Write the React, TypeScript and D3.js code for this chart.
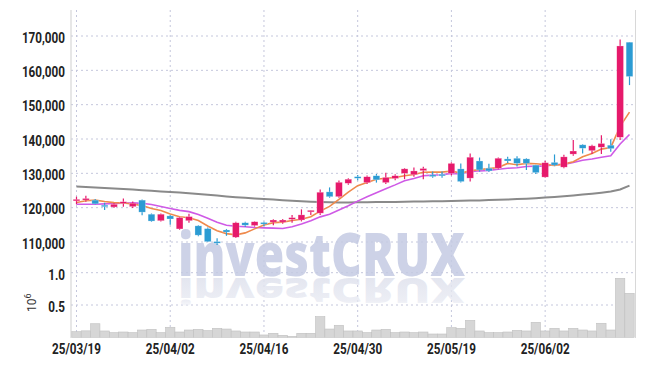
import { scaleBand, scaleLinear, line } from "d3";

// trading days (KRX), 2025/03/19 .. 2025/06/17
const dates = [
  "25/03/19", "25/03/20", "25/03/21", "25/03/24", "25/03/25", "25/03/26", "25/03/27", "25/03/28", "25/03/31", "25/04/01",
  "25/04/02", "25/04/03", "25/04/04", "25/04/07", "25/04/08", "25/04/09", "25/04/10", "25/04/11", "25/04/14", "25/04/15",
  "25/04/16", "25/04/17", "25/04/18", "25/04/21", "25/04/22", "25/04/23", "25/04/24", "25/04/25", "25/04/28", "25/04/29",
  "25/04/30", "25/05/02", "25/05/07", "25/05/08", "25/05/09", "25/05/12", "25/05/13", "25/05/14", "25/05/15", "25/05/16",
  "25/05/19", "25/05/20", "25/05/21", "25/05/22", "25/05/23", "25/05/26", "25/05/27", "25/05/28", "25/05/29", "25/05/30",
  "25/06/02", "25/06/04", "25/06/05", "25/06/09", "25/06/10", "25/06/11", "25/06/12", "25/06/13", "25/06/16", "25/06/17",
];
const opens = [
  122100, 122300, 122200, 120600, 120200, 121400, 120300, 122200, 118100, 116200,
  117600, 113800, 116200, 114700, 113900, 110000, 113500, 111400, 115600, 114800,
  115500, 115800, 115800, 116600, 116400, 118900, 118400, 124600, 123200, 127100,
  128900, 127300, 129300, 127300, 128500, 130000, 129600, 130800, 129500, 129700,
  130000, 131300, 128600, 133600, 131500, 131500, 134200, 134400, 134200, 132400,
  128900, 133200, 131800, 135600, 138300, 136600, 137600, 138200, 140500, 168200,
];
const highs = [
  123200, 123500, 122500, 121400, 121300, 122700, 121800, 122400, 118300, 118300,
  117900, 117300, 118200, 114900, 114200, 111100, 113800, 115900, 115900, 116000,
  115900, 116600, 116700, 117900, 119500, 119200, 125300, 125900, 127900, 128600,
  129500, 129400, 129800, 130200, 129700, 131500, 131700, 131900, 130500, 130500,
  133200, 132900, 135800, 134600, 132800, 134600, 134800, 135000, 134400, 132500,
  133700, 135500, 135400, 139700, 138500, 138300, 141100, 139900, 169000, 168200,
];
const lows = [
  121000, 121700, 120900, 119300, 119900, 120300, 119900, 117800, 115900, 116000,
  115000, 113600, 115600, 111700, 110000, 109100, 111800, 111200, 114400, 114500,
  114600, 114900, 115300, 115600, 116000, 117900, 117900, 122900, 122900, 126700,
  128000, 126900, 127300, 126900, 128000, 128300, 129000, 128300, 128700, 128700,
  129400, 127300, 127600, 130500, 130400, 131200, 133000, 132000, 131000, 129800,
  128700, 132100, 131500, 135100, 135800, 135600, 135600, 136300, 139700, 155700,
];
const closes = [
  122300, 122600, 121100, 120400, 121000, 121600, 121300, 118700, 116100, 118100,
  116700, 117100, 117400, 112000, 110100, 109800, 112900, 115600, 114900, 115900,
  115400, 116400, 116400, 117100, 117900, 119100, 124500, 123200, 127400, 128300,
  128700, 129000, 128100, 128800, 129300, 131300, 130700, 131400, 129100, 129300,
  132900, 127600, 134700, 131000, 130700, 134400, 133600, 132900, 132900, 130200,
  133100, 132400, 134800, 136500, 137300, 138000, 138700, 137200, 167100, 158200,
];
const volumes = [
  87000, 100000, 210000, 98000, 72000, 82000, 72000, 113000, 124000, 72000,
  155000, 82000, 113000, 124000, 103000, 139000, 128000, 98000, 82000, 82000,
  36000, 62000, 31000, 15000, 62000, 62000, 320000, 128000, 186000, 98000,
  98000, 72000, 113000, 124000, 72000, 82000, 72000, 82000, 51000, 51000,
  149000, 139000, 263000, 98000, 72000, 72000, 82000, 108000, 98000, 232000,
  98000, 139000, 98000, 139000, 113000, 98000, 217000, 113000, 913000, 681000,
];
const ma5 = [
  121500, 122000, 122200, 121800, 121480, 121340, 121080, 120600, 119740, 119160,
  118180, 117340, 117080, 116260, 114660, 113280, 112440, 112080, 112660, 113820,
  114940, 115640, 115800, 116240, 116640, 117380, 119000, 120360, 122420, 124500,
  126420, 127320, 128300, 128580, 128780, 129300, 129640, 130300, 130360, 130360,
  130680, 130060, 130720, 131100, 131380, 131680, 132880, 132520, 132900, 132800,
  132540, 132300, 132680, 133400, 134820, 135800, 137060, 137540, 143660, 147840,
];
const ma10 = [
  121000, 121000, 121000, 121100, 121200, 121300, 121400, 121300, 120900, 120320,
  119760, 119210, 118840, 118000, 116910, 115730, 114890, 114580, 114460, 114240,
  114110, 114040, 113940, 114450, 115230, 116160, 117320, 118080, 119330, 120570,
  121900, 123160, 124330, 125500, 126640, 127860, 128480, 129300, 129470, 129570,
  129990, 129850, 130510, 130730, 130870, 131180, 131470, 131620, 132000, 132090,
  132110, 132590, 132600, 133150, 133810, 134170, 134680, 135110, 138530, 141330,
];
const ma60 = [
  126170, 126020, 125880, 125730, 125580, 125440, 125260, 125090, 124910, 124740,
  124570, 124390, 124220, 123980, 123750, 123520, 123280, 123050, 122880, 122700,
  122530, 122350, 122180, 122000, 121860, 121710, 121620, 121560, 121540, 121540,
  121560, 121590, 121620, 121650, 121680, 121710, 121770, 121830, 121860, 121890,
  121940, 122000, 122060, 122120, 122200, 122290, 122380, 122500, 122610, 122760,
  122930, 123110, 123310, 123550, 123810, 124070, 124360, 124710, 125290, 126400,
];
const priceTicks = [110000, 120000, 130000, 140000, 150000, 160000, 170000];
const volumeTicks = [500000, 1000000];
const dateTicks = ["25/03/19", "25/04/02", "25/04/16", "25/04/30", "25/05/19", "25/06/02"];

const UP = "#e6196b";
const DOWN = "#2b9bd3";
const GRID = "#c4c7dc";
const labelFont = "Roboto, sans-serif";

export default function App() {
  const x = scaleBand<number>()
    .domain(dates.map((_, i) => i))
    .range([70.5, 635.5])
    .padding(0.28);
  const step = x.step();
  const cx = (i: number) => (x(i) ?? 0) + x.bandwidth() / 2;
  const y = scaleLinear().domain([110000, 170000]).range([242, 36]);
  const yv = scaleLinear().domain([0, 1000000]).range([337.3, 272.7]);

  const maLine = line<number>()
    .x((_, i) => cx(i))
    .y((d) => y(d));

  const top = 10;
  const bottom = 338;

  return (
    <svg
      width={645}
      height={366}
      style={{ position: "absolute", left: 0, top: 0, background: "#fff" }}
    >
      <defs>
        <linearGradient id="fade" x1="0" y1="1" x2="0" y2="0">
          <stop offset="0" stopColor="#dde0ec" stopOpacity={0.95} />
          <stop offset="0.7" stopColor="#e6e8f1" stopOpacity={0.75} />
          <stop offset="1" stopColor="#ffffff" stopOpacity={0.2} />
        </linearGradient>
      </defs>

      {/* grid */}
      {priceTicks.map((t) => (
        <line key={"pg" + t} x1={71} x2={635} y1={y(t)} y2={y(t)} stroke={GRID} strokeDasharray="2,3" />
      ))}
      {volumeTicks.map((t) => (
        <line key={"vg" + t} x1={71} x2={635} y1={yv(t)} y2={yv(t)} stroke={GRID} strokeDasharray="2,3" />
      ))}
      {dateTicks.map((d) => {
        const i = dates.indexOf(d);
        return <line key={"xg" + d} x1={cx(i)} x2={cx(i)} y1={top} y2={bottom} stroke={GRID} strokeDasharray="2,3" />;
      })}

      {/* watermark */}
      <text x={178} y={276} textLength={287} lengthAdjust="spacingAndGlyphs"
        fontFamily="'Open Sans', sans-serif" fontWeight={800} fontSize={60} fill="#c5cbe3" opacity={0.85}>
        investCRUX
      </text>
      <text x={178} y={0} textLength={287} lengthAdjust="spacingAndGlyphs"
        transform="translate(0,278) scale(1,-0.58)"
        fontFamily="'Open Sans', sans-serif" fontWeight={800} fontSize={60} fill="url(#fade)">
        investCRUX
      </text>

      {/* frame */}
      <line x1={71} x2={71} y1={top} y2={bottom} stroke="#cfcfcf" />
      <line x1={635.5} x2={635.5} y1={top} y2={bottom} stroke="#d8d8d8" />

      {/* volume */}
      {volumes.map((v, i) => (
        <rect key={"v" + i} x={cx(i) - step / 2} width={step} y={yv(v)} height={yv(0) - yv(v)}
          fill="#d6d6d6" stroke="#c0c0c0" strokeWidth={0.6} />
      ))}

      {/* moving averages */}
      <path d={maLine(ma60) ?? ""} fill="none" stroke="#8a8a8a" strokeWidth={2} />
      <path d={maLine(ma10) ?? ""} fill="none" stroke="#cf5ae6" strokeWidth={1.6} />
      <path d={maLine(ma5) ?? ""} fill="none" stroke="#ef8a4c" strokeWidth={1.6} />

      {/* candles */}
      {dates.map((_, i) => {
        const o = opens[i], c = closes[i];
        const col = c >= o ? UP : DOWN;
        const yTop = y(Math.max(o, c));
        const raw = y(Math.min(o, c)) - yTop;
        const h = Math.max(1.6, raw);
        return (
          <g key={"c" + i}>
            <line x1={cx(i)} x2={cx(i)} y1={y(highs[i])} y2={y(lows[i])} stroke={col} strokeWidth={1.2} />
            <rect x={x(i)} width={x.bandwidth()} y={raw < 1.6 ? yTop - (1.6 - raw) / 2 : yTop} height={h}
              fill={col} stroke="#fff" strokeOpacity={0.5} strokeWidth={0.5} />
          </g>
        );
      })}

      {/* y labels */}
      {priceTicks.map((t) => (
        <text key={"pl" + t} transform={`translate(65,${y(t) + 6.5}) scale(0.78,1)`} textAnchor="end"
          fontFamily={labelFont} fontWeight={700} fontSize={15} fill="#222">
          {t.toLocaleString("en-US")}
        </text>
      ))}
      {volumeTicks.map((t) => (
        <text key={"vl" + t} transform={`translate(65,${yv(t) + 7}) scale(0.78,1)`} textAnchor="end"
          fontFamily={labelFont} fontWeight={700} fontSize={15} fill="#222">
          {(t / 1e6).toFixed(1)}
        </text>
      ))}
      <text transform="translate(36,312) rotate(-90)" fontFamily={labelFont} fontSize={12} fill="#333">
        10<tspan dy={-5} fontSize={9}>6</tspan>
      </text>

      {/* x labels */}
      {dateTicks.map((d) => (
        <text key={"xl" + d} transform={`translate(${cx(dates.indexOf(d))},354) scale(0.78,1)`} textAnchor="middle"
          fontFamily={labelFont} fontWeight={700} fontSize={15} fill="#222">
          {d}
        </text>
      ))}
    </svg>
  );
}
